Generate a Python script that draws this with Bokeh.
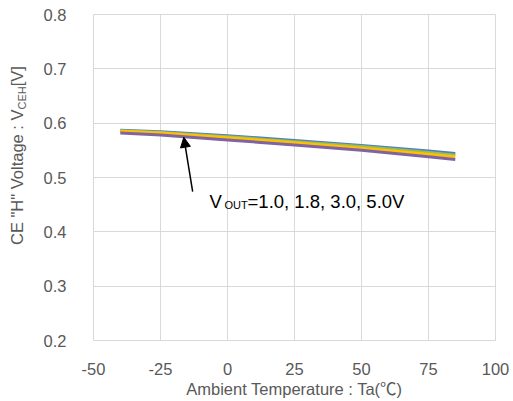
from bokeh.plotting import figure
from bokeh.models import Label, Arrow, NormalHead, FixedTicker, Range1d, Div
from bokeh.layouts import row
from bokeh.embed import file_html
from bokeh.resources import INLINE

temps = [-40, -25, 0, 25, 50, 75, 85]
v_blue = [0.587, 0.584, 0.577, 0.568, 0.559, 0.549, 0.544]
v_green = [0.586, 0.583, 0.575, 0.566, 0.557, 0.546, 0.541]
v_yellow = [0.585, 0.582, 0.573, 0.564, 0.554, 0.543, 0.538]
v_purple = [0.582, 0.578, 0.569, 0.560, 0.550, 0.538, 0.533]
series = [("1.0", v_blue, "#4F81BD"), ("1.8", v_green, "#9BBB59"),
          ("3.0", v_yellow, "#FFC000"), ("5.0", v_purple, "#8064A2")]
x_ticks = [-50, -25, 0, 25, 50, 75, 100]
y_ticks = [0.2, 0.3, 0.4, 0.5, 0.6, 0.7, 0.8]
x_tick_labels = ["-50", "-25", "0", "25", "50", "75", "100"]
y_tick_labels = ["0.2", "0.3", "0.4", "0.5", "0.6", "0.7", "0.8"]
y_title_main = "CE \"H\" Voltage : V"
y_title_sub = "CEH"
y_title_end = "[V]"

FONT = "Liberation Sans, Noto Sans CJK JP"
GRAY = "#595959"
FS = "16.5px"

DIV_W = 40
p = figure(width=513 - DIV_W, height=400, output_backend="svg", toolbar_location=None,
           x_range=Range1d(-50, 100), y_range=Range1d(0.2, 0.8),
           min_border_left=90 - DIV_W, min_border_right=18, min_border_top=14, min_border_bottom=58)
p.margin = 0
p.outline_line_color = "#D9D9D9"
p.outline_line_width = 1

for name, vals, col in series:
    p.line(temps, vals, line_color=col, line_width=3)

for ax in (p.xaxis[0], p.yaxis[0]):
    ax.axis_line_color = None
    ax.major_tick_line_color = None
    ax.minor_tick_line_color = None
    ax.major_label_text_font = FONT
    ax.major_label_text_font_size = FS
    ax.major_label_text_color = GRAY
    ax.axis_label_text_font = FONT
    ax.axis_label_text_font_size = FS
    ax.axis_label_text_color = GRAY
    ax.axis_label_text_font_style = "normal"

p.xaxis.ticker = FixedTicker(ticks=x_ticks)
p.yaxis.ticker = FixedTicker(ticks=y_ticks)
p.xaxis.major_label_overrides = dict(zip(x_ticks, x_tick_labels))
p.yaxis.major_label_overrides = dict(zip(y_ticks, y_tick_labels))
p.xaxis.major_label_standoff = 16
p.yaxis.major_label_standoff = 21
p.xaxis.axis_label = "Ambient Temperature : Ta(\u2103)"
p.xaxis.axis_label_standoff = 2

p.xgrid.grid_line_color = "#D9D9D9"
p.ygrid.grid_line_color = "#D9D9D9"

# annotation arrow
p.add_layout(Arrow(end=NormalHead(size=10, fill_color="black", line_color="black"),
                   x_start=-13, y_start=0.474, x_end=-16.3, y_end=0.574,
                   line_color="black", line_width=1.5))

base_x = -6.7
base_y = 0.455
p.add_layout(Label(x=base_x, y=base_y, text="V", text_font=FONT, text_font_size="18.5px",
                   text_color="black", text_baseline="alphabetic"))
p.add_layout(Label(x=base_x, y=base_y, x_offset=15, y_offset=-3, text="OUT", text_font=FONT,
                   text_font_size="11px", text_color="black", text_baseline="alphabetic"))
p.add_layout(Label(x=base_x, y=base_y, x_offset=38, text="=1.0, 1.8, 3.0, 5.0V", text_font=FONT,
                   text_font_size="18.5px", text_color="black", text_baseline="alphabetic"))

# y-axis title (rotated, with subscript)
ytitle = Div(
    text=(f'<span style="position:absolute; left:9px; top:245px; transform:rotate(-90deg); '
          f'transform-origin:left top; white-space:nowrap; line-height:1; '
          f'font-family:\'Liberation Sans\'; font-size:16.5px; color:{GRAY};">'
          f'{y_title_main}<span style="font-size:11px; vertical-align:-3px;">{y_title_sub}</span>'
          f'{y_title_end}</span>'),
    width=DIV_W, height=400, margin=0, styles={"position": "relative"})

layout = row(ytitle, p, spacing=0)
open("out.html", "w").write(file_html(layout, INLINE))
